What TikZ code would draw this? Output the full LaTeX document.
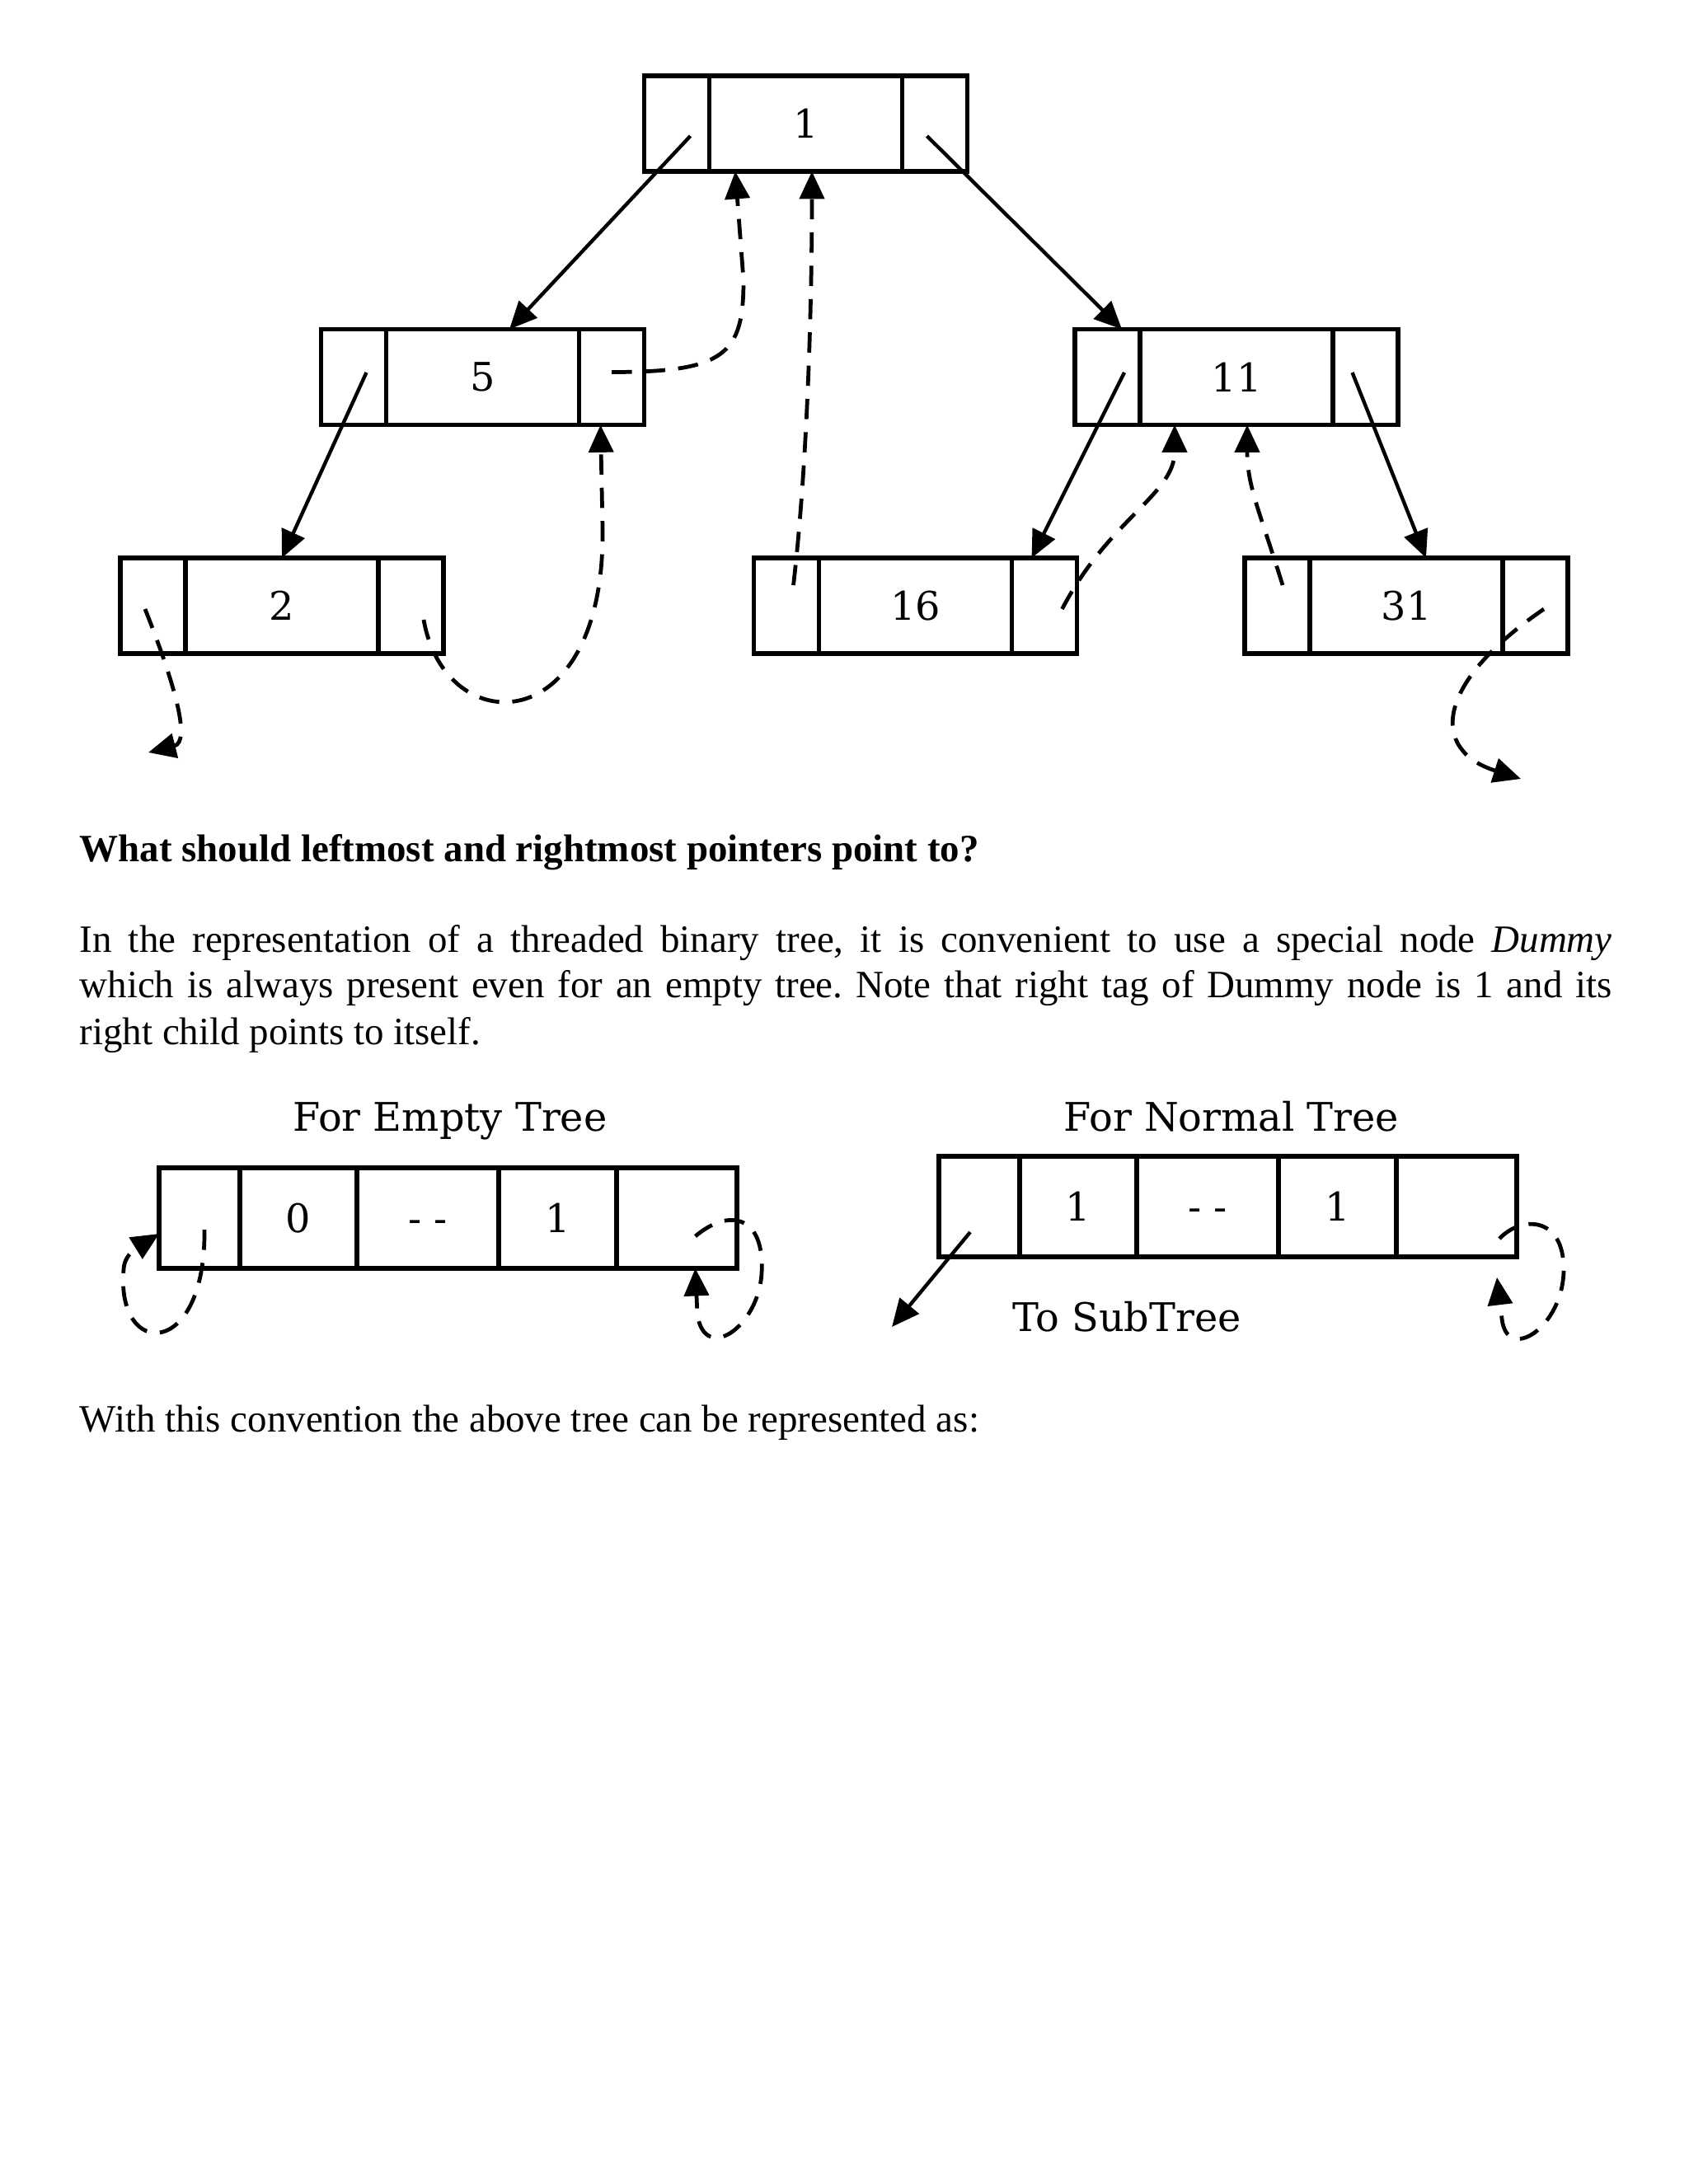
\documentclass[tikz,border=0pt]{standalone}
\usepackage{fontspec}
\setmainfont{Liberation Serif}
\newfontfamily\diagfont{DejaVu Serif}
\usetikzlibrary{arrows.meta,positioning}
\frenchspacing
\newcommand\bodysize{\fontsize{13.35pt}{15.9pt}\selectfont}
\newcommand\labsize{\diagfont\fontsize{13.6pt}{16pt}\selectfont}

\tikzset{
  cell/.style={draw,line width=1.5pt,minimum width=0.79cm,minimum height=1.16cm,inner sep=0pt,outer sep=0pt},
  keybox/.style={cell,minimum width=2.34cm,font=\labsize},
  slot/.style={draw,line width=1.6pt,minimum height=1.22cm,inner sep=0pt,outer sep=0pt,font=\labsize,
    text height=9.9pt,text depth=0pt},
  ptr/.style={line width=1.25pt,-{Triangle[length=9.5pt,width=8.5pt]}},
  thread/.style={ptr,line width=1.35pt,dash pattern=on 7pt off 4.5pt},
  txt/.style={anchor=base west,inner sep=0pt,font=\bodysize},
}

\begin{document}
\begin{tikzpicture}
  \useasboundingbox (0,0) rectangle (20.48,-26.50);
  % tree nodes: left thread | key | right thread
  \foreach \nm/\x/\y/\val in {n1/9.775/-1.50/1,n5/5.855/-4.575/5,n11/15.00/-4.575/11,
                              n2/3.42/-7.35/2,n16/11.105/-7.35/16,n31/17.06/-7.35/31}{
    \node[keybox] (\nm) at (\x,\y) {\val};
    \node[cell,left=0pt of \nm] (\nm-l) {};
    \node[cell,right=0pt of \nm] (\nm-r) {};
  }
  % child links
  \draw[ptr] ([shift={(0.165,-0.15)}]n1-l.center) -- ([xshift=3.25mm]n5.north);
  \draw[ptr] ([shift={(-0.095,-0.15)}]n1-r.center) -- ([xshift=1.75mm]n11-l.north);
  \draw[ptr] ([shift={(0.155,0.055)}]n5-l.center) -- (n2.north);
  \draw[ptr] ([shift={(0.205,0.055)}]n11-l.center) -- ([xshift=-1.55mm]n16-r.north);
  \draw[ptr] ([shift={(-0.16,0.055)}]n11-r.center) -- ([xshift=2.4mm]n31.north);
  % threads
  \coordinate (lo2) at (1.80,-9.13);
  \coordinate (lo31) at (18.45,-9.45);
  \draw[thread] ([yshift=0.6mm]n5-r.center) .. controls (8.80,-4.515) and (9.02,-4.30) .. (9.02,-3.40)
    -- ([xshift=-8.55mm]n1.south);
  \draw[thread] ([shift={(0.085,0.25)}]n16-l.center) .. controls (9.80,-5.60) and (9.85,-3.60) .. ([xshift=0.75mm]n1.south);
  \draw[thread] ([shift={(0.155,-0.17)}]n2-r.center) .. controls (5.40,-9.00) and (7.35,-9.00) .. (7.31,-6.40)
    -- ([xshift=-1.35mm]n5-r.south);
  \draw[thread] ([shift={(-0.095,-0.04)}]n2-l.center) .. controls (2.12,-8.30) and (2.32,-9.00) .. (lo2);
  \draw[thread] ([shift={(0.215,-0.04)}]n16-r.center) .. controls (13.45,-6.30) and (14.25,-6.00) .. ([xshift=-7.5mm]n11.south);
  \draw[thread] ([shift={(0.065,0.25)}]n31-l.center) .. controls (15.28,-6.20) and (15.13,-5.90) .. ([xshift=1.3mm]n11.south);
  \draw[thread] ([shift={(0.105,-0.04)}]n31-r.center) .. controls (17.40,-8.30) and (17.35,-9.10) .. (lo31);

  % text
  \node[txt,font=\bodysize\bfseries] (qn) at (0.96,-10.45) {What should leftmost and rightmost pointers point to?};
  \node[txt] (p1) at (0.96,-11.55) {\makebox[18.59cm][s]{In the representation of a threaded binary tree, it is convenient to use a special node \textit{Dummy}}};
  \node[txt] (p2) at (0.96,-12.10) {\makebox[18.59cm][s]{which is always present even for an empty tree. Note that right tag of Dummy node is 1 and its}};
  \node[txt] (p3) at (0.96,-12.67) {right child points to itself.};

  % dummy node, empty tree
  \node[anchor=base,inner sep=0pt,font=\labsize] (ttl-e) at (5.46,-13.72) {For Empty Tree};
  \node[slot,minimum width=0.98cm] (e1) at (2.42,-14.78) {};
  \node[slot,minimum width=1.42cm,right=0pt of e1] (e2) {0};
  \node[slot,minimum width=1.72cm,right=0pt of e2] (e3) {- -};
  \node[slot,minimum width=1.43cm,right=0pt of e3] (e4) {1};
  \node[slot,minimum width=1.46cm,right=0pt of e4] (e5) {};
  \draw[thread] ([shift={(0.06,-0.14)}]e1.center) .. controls (2.50,-16.50) and (1.40,-16.50) .. (1.50,-15.40)
    .. controls (1.51,-15.20) and (1.72,-15.10) .. ([yshift=-1.9mm]e1.west);
  \draw[thread] ([shift={(0.225,-0.22)}]e5.center) .. controls (8.85,-14.65) and (9.28,-14.75) .. (9.24,-15.45)
    .. controls (9.20,-16.10) and (8.55,-16.55) .. (8.46,-15.95) -- ([xshift=2.25mm]e5.south);

  % dummy node, normal tree
  \node[anchor=base,inner sep=0pt,font=\labsize] (ttl-m) at (14.94,-13.72) {For Normal Tree};
  \node[slot,minimum width=0.98cm] (m1) at (11.88,-14.64) {};
  \node[slot,minimum width=1.42cm,right=0pt of m1] (m2) {1};
  \node[slot,minimum width=1.72cm,right=0pt of m2] (m3) {- -};
  \node[slot,minimum width=1.43cm,right=0pt of m3] (m4) {1};
  \node[slot,minimum width=1.46cm,right=0pt of m4] (m5) {};
  \node[anchor=base,inner sep=0pt,font=\labsize] (sub) at (13.67,-16.15) {To SubTree};
  \coordinate (tosub) at (10.82,-16.10);
  \draw[ptr] ([shift={(-0.11,-0.31)}]m1.center) -- (tosub);
  \draw[thread] ([shift={(0.52,-0.39)}]m5.center) .. controls (18.45,-14.75) and (18.97,-14.75) .. (18.97,-15.40)
    .. controls (18.97,-16.10) and (18.28,-16.55) .. (18.22,-16.00) -- ([shift={(0.49,-0.25)}]m5.south);

  \node[txt] (wc) at (0.96,-17.37) {With this convention the above tree can be represented as:};
\end{tikzpicture}
\end{document}
